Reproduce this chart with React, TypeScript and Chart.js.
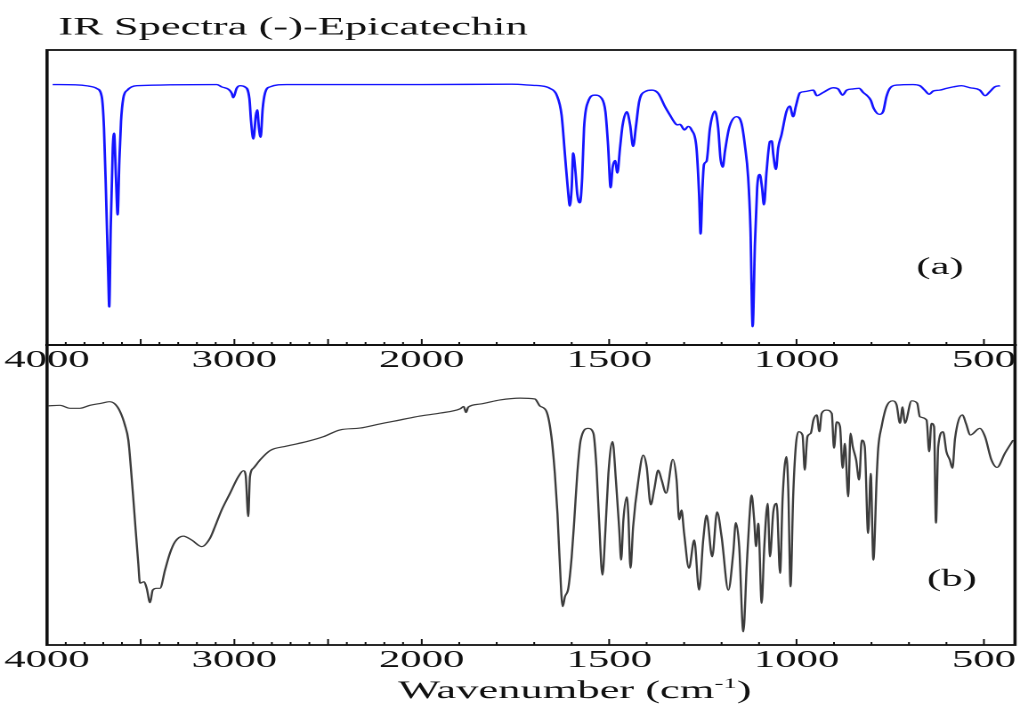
import React, { useEffect, useRef } from "react";
import { Chart, registerables } from "chart.js";

Chart.register(...registerables);

// ---------- text ----------
const chartTitle = "IR Spectra (-)-Epicatechin";
const panelLabelTop = "(a)";
const panelLabelBottom = "(b)";
const axisTitleMain = "Wavenumber (cm";
const axisTitleSup = "-1";
const axisTitleEnd = ")";

// ---------- axis ticks ----------
const tickLabels = [4000, 3000, 2000, 1500, 1000, 500];
const majorTickMarks = [4000, 3500, 3000, 2500, 2000, 1500, 1000, 500];
const minorTickStep = 100;
const wavenumberStart = 4000;
const wavenumberEnd = 417;

// ---------- spectrum (a) : computed IR, blue ----------
const topWavenumber = [
  3970, 3850, 3780, 3750, 3733, 3708, 3696, 3685, 3673, 3668,
  3660, 3649, 3642, 3632, 3623, 3614, 3605, 3593, 3571, 3521,
  3094, 3068, 3030, 3014, 3006, 2988, 2970, 2944, 2920, 2911,
  2899, 2885, 2878, 2869, 2860, 2849, 2837, 2810, 2721, 2000,
  1760, 1700, 1685, 1658, 1640, 1627, 1618, 1609, 1605, 1600,
  1596, 1590, 1585, 1578, 1572, 1567, 1556, 1538, 1520, 1510,
  1503, 1496, 1491, 1484, 1478, 1471, 1464, 1453, 1444, 1436,
  1428, 1420, 1404, 1386, 1369, 1351, 1338, 1324, 1318, 1311,
  1299, 1289, 1280, 1267, 1260, 1256, 1251, 1247, 1240, 1231,
  1218, 1209, 1203, 1197, 1191, 1180, 1160, 1147, 1138, 1129,
  1123, 1117, 1111, 1105, 1098, 1092, 1087, 1080, 1071, 1066,
  1062, 1055, 1049, 1040, 1027, 1018, 1009, 1002, 991, 978,
  955, 946, 929, 902, 889, 877, 866, 849, 833, 822,
  813, 802, 794, 779, 769, 760, 751, 733, 689, 671,
  658, 646, 635, 618, 600, 582, 560, 537, 511, 497,
  484, 471, 457,
];
const topTransmittance = [
  88.3, 88.2, 87.8, 87.4, 86.9, 84.2, 73.5, 51.0, 23.0, 12.9,
  39.8, 66.8, 71.8, 56.7, 44.1, 62.3, 75.8, 83.6, 86.4, 87.9,
  88.3, 87.5, 86.6, 85.3, 83.8, 87.0, 87.9, 87.5, 83.6, 75.8,
  69.8, 78.0, 79.7, 73.5, 70.4, 80.2, 85.3, 87.5, 88.3, 88.3,
  88.4, 88.0, 87.9, 87.0, 84.7, 78.0, 64.5, 51.1, 47.1, 53.3,
  65.1, 58.9, 51.1, 48.2, 56.7, 73.5, 82.5, 84.7, 83.6, 79.1,
  67.9, 53.3, 60.0, 62.5, 58.3, 66.8, 74.6, 79.1, 74.6, 67.3,
  74.6, 82.5, 85.9, 86.4, 85.3, 80.8, 78.0, 75.2, 74.6, 74.8,
  72.9, 74.1, 72.9, 66.8, 51.1, 37.6, 53.3, 61.2, 62.3, 73.5,
  79.3, 73.5, 63.4, 60.3, 65.7, 73.5, 77.4, 75.2, 67.9, 56.7,
  39.8, 6.2, 34.2, 53.3, 57.8, 53.3, 47.5, 58.9, 69.0, 69.2,
  64.5, 59.5, 66.8, 71.3, 79.1, 81.0, 77.4, 80.8, 85.5, 85.9,
  86.4, 84.5, 85.6, 87.2, 86.8, 84.7, 86.4, 86.8, 87.0, 85.6,
  84.7, 83.0, 80.2, 78.2, 79.1, 84.2, 87.0, 88.1, 88.3, 87.9,
  86.4, 85.0, 86.1, 86.4, 87.0, 87.5, 87.9, 87.2, 86.4, 84.5,
  85.9, 87.5, 87.9,
];

// ---------- spectrum (b) : experimental IR, dark grey ----------
const bottomWavenumber = [
  3993, 3931, 3877, 3824, 3771, 3708, 3668, 3637, 3610, 3584,
  3566, 3553, 3539, 3527, 3513, 3504, 3482, 3468, 3450, 3436,
  3415, 3397, 3370, 3344, 3317, 3273, 3228, 3174, 3130, 3104,
  3068, 3023, 2979, 2952, 2940, 2926, 2917, 2899, 2863, 2810,
  2721, 2614, 2526, 2436, 2330, 2223, 2116, 2010, 1951, 1898,
  1888, 1882, 1876, 1845, 1791, 1738, 1698, 1685, 1667, 1654,
  1645, 1638, 1633, 1624, 1618, 1609, 1600, 1593, 1585, 1576,
  1556, 1542, 1534, 1527, 1518, 1510, 1502, 1491, 1482, 1473,
  1468, 1462, 1453, 1449, 1443, 1436, 1422, 1409, 1400, 1389,
  1380, 1369, 1360, 1348, 1330, 1320, 1313, 1307, 1300, 1287,
  1273, 1260, 1249, 1240, 1225, 1212, 1200, 1182, 1169, 1162,
  1153, 1142, 1133, 1126, 1120, 1113, 1108, 1102, 1093, 1086,
  1077, 1071, 1062, 1053, 1044, 1037, 1027, 1022, 1016, 1009,
  1002, 995, 984, 978, 971, 962, 955, 946, 939, 933,
  920, 906, 900, 893, 884, 877, 871, 862, 856, 850,
  841, 833, 826, 818, 809, 802, 795, 786, 782, 773,
  760, 744, 733, 724, 717, 711, 693, 678, 671, 653,
  646, 640, 633, 628, 622, 609, 600, 591, 584, 577,
  557, 548, 536, 511, 497, 480, 465, 444, 422,
];
const bottomTransmittance = [
  79.7, 79.9, 78.9, 78.9, 79.9, 80.6, 81.1, 80.3, 77.8, 73.3,
  68.3, 59.4, 48.3, 38.3, 27.2, 20.6, 21.1, 18.9, 14.1, 18.3,
  18.9, 18.9, 25.0, 30.6, 34.4, 36.3, 35.0, 32.8, 35.6, 39.4,
  45.0, 50.6, 56.1, 58.1, 56.7, 42.8, 56.1, 58.9, 61.7, 64.8,
  66.3, 67.8, 69.4, 71.7, 72.3, 73.7, 75.0, 76.3, 77.3, 78.7,
  79.5, 77.5, 79.3, 80.3, 81.7, 82.3, 82.0, 79.7, 77.8, 69.4,
  57.2, 43.9, 30.6, 12.8, 16.1, 18.9, 29.4, 41.7, 57.2, 68.3,
  72.2, 70.6, 59.4, 41.7, 23.3, 38.3, 57.2, 67.8, 55.0, 38.3,
  28.3, 41.7, 49.4, 43.9, 25.6, 39.4, 55.0, 63.3, 59.4, 46.7,
  51.7, 58.3, 55.0, 50.6, 61.9, 55.0, 41.7, 45.0, 37.2, 25.6,
  35.0, 18.3, 35.0, 43.3, 29.4, 44.4, 36.1, 18.3, 30.6, 40.8,
  32.8, 4.4, 26.1, 41.7, 50.0, 41.7, 32.8, 40.6, 13.9, 32.8,
  47.2, 29.4, 44.4, 47.2, 23.9, 49.4, 62.8, 51.7, 19.4, 49.4,
  66.1, 71.1, 70.0, 58.3, 69.4, 70.6, 75.0, 76.7, 71.1, 77.2,
  78.3, 77.2, 65.6, 74.4, 72.8, 58.9, 67.2, 49.4, 70.6, 66.1,
  61.7, 55.0, 68.3, 66.1, 37.2, 57.2, 28.3, 56.1, 65.6, 72.8,
  79.4, 81.4, 80.0, 73.9, 79.4, 73.9, 81.4, 80.6, 76.1, 75.0,
  64.4, 73.9, 72.8, 40.6, 66.1, 71.1, 64.4, 61.7, 58.9, 68.9,
  76.7, 73.9, 70.0, 72.2, 69.4, 61.7, 59.2, 63.9, 68.3,
];

// ---------- geometry (the picture is a horizontally stretched plot) ----------
const PAGE_W = 1020;
const PAGE_H = 706;
const LOGICAL_W = 573;
const SX = PAGE_W / LOGICAL_W;
const PLOT_LEFT = 47 / SX;
const PLOT_RIGHT = 1015 / SX;
const AXIS_H = 30;
const SERIF = '"Liberation Serif", "Times New Roman", serif';
const INK = "#111111";

// x axis: linear above 2000 cm-1, expanded x2 below 2000 cm-1
const toAxis = (w: number) => (w >= 2000 ? (4000 - w) / 1000 : 2 + (2000 - w) / 500);

function drawText(ctx: CanvasRenderingContext2D, text: string, x: number, y: number, size: number, align: CanvasTextAlign) {
  ctx.font = `${size}px ${SERIF}`;
  ctx.fillStyle = INK;
  ctx.textAlign = align;
  ctx.textBaseline = "alphabetic";
  ctx.fillText(text, x, y);
}

function framePlugin(id: string, drawExtra: (chart: any) => void) {
  return {
    id,
    afterDraw(chart: any) {
      const { ctx, chartArea: a, scales } = chart;
      ctx.save();
      ctx.strokeStyle = INK;
      ctx.lineWidth = 1.8;
      ctx.strokeRect(a.left, a.top, a.right - a.left, a.bottom - a.top);
      ctx.lineWidth = 1;
      ctx.beginPath();
      for (let w = wavenumberStart; w >= 500; w -= minorTickStep) {
        const x = scales.x.getPixelForValue(toAxis(w));
        const len = majorTickMarks.includes(w) ? 6 : 3;
        ctx.moveTo(x, a.bottom);
        ctx.lineTo(x, a.bottom - len);
      }
      ctx.stroke();
      drawExtra(chart);
      ctx.restore();
    },
  };
}

function makeConfig(
  wn: number[],
  tr: number[],
  color: string,
  width: number,
  top: number,
  bottom: number,
  plugin: any
): any {
  return {
    type: "line",
    data: {
      datasets: [
        {
          data: wn.map((w, i) => ({ x: toAxis(w), y: tr[i] })),
          borderColor: color,
          borderWidth: width,
          pointRadius: 0,
          fill: false,
          cubicInterpolationMode: "monotone",
          borderJoinStyle: "round",
        },
      ],
    },
    options: {
      responsive: false,
      animation: false,
      devicePixelRatio: 2,
      events: [],
      layout: {
        padding: { left: PLOT_LEFT, right: LOGICAL_W - PLOT_RIGHT, top, bottom: PAGE_H - bottom - AXIS_H },
      },
      plugins: { legend: { display: false }, title: { display: false }, tooltip: { enabled: false } },
      scales: {
        x: {
          type: "linear",
          min: toAxis(wavenumberStart),
          max: toAxis(wavenumberEnd),
          grid: { display: false, drawTicks: false },
          border: { display: false },
          afterBuildTicks: (scale: any) => {
            scale.ticks = tickLabels.map((w) => ({ value: toAxis(w) }));
          },
          afterFit: (scale: any) => {
            scale.height = AXIS_H;
          },
          ticks: {
            autoSkip: false,
            maxRotation: 0,
            minRotation: 0,
            padding: 1.5,
            color: INK,
            font: { family: SERIF, size: 24 },
            callback: (_v: number, i: number) => String(tickLabels[i]),
          },
        },
        y: { display: false, min: 0, max: 100 },
      },
    },
    plugins: [plugin],
  };
}

export default function App() {
  const topRef = useRef<HTMLCanvasElement>(null);
  const bottomRef = useRef<HTMLCanvasElement>(null);

  useEffect(() => {
    const topPlugin = framePlugin("frameTop", (chart) => {
      const { ctx } = chart;
      drawText(ctx, chartTitle, 58.3 / SX, 34.3, 25, "left");
      drawText(ctx, panelLabelTop, 940 / SX, 274, 24, "center");
    });
    const bottomPlugin = framePlugin("frameBottom", (chart) => {
      const { ctx } = chart;
      drawText(ctx, panelLabelBottom, 952 / SX, 586, 24, "center");
      let x = 398 / SX;
      const base = 698;
      drawText(ctx, axisTitleMain, x, base, 25, "left");
      x += ctx.measureText(axisTitleMain).width;
      drawText(ctx, axisTitleSup, x, base - 10, 15, "left");
      x += ctx.measureText(axisTitleSup).width;
      drawText(ctx, axisTitleEnd, x, base, 25, "left");
    });

    const c1 = new Chart(
      topRef.current as HTMLCanvasElement,
      makeConfig(topWavenumber, topTransmittance, "#1414ff", 1.4, 50, 345, topPlugin)
    );
    const c2 = new Chart(
      bottomRef.current as HTMLCanvasElement,
      makeConfig(bottomWavenumber, bottomTransmittance, "#3c3c3c", 1.2, 345, 645, bottomPlugin)
    );
    return () => {
      c1.destroy();
      c2.destroy();
    };
  }, []);

  const canvasStyle: React.CSSProperties = {
    position: "absolute",
    left: 0,
    top: 0,
    width: `${PAGE_W}px`,
    height: `${PAGE_H}px`,
  };

  return (
    <div style={{ position: "fixed", left: 0, top: 0, width: PAGE_W, height: PAGE_H, background: "#ffffff" }}>
      <canvas ref={bottomRef} width={LOGICAL_W} height={PAGE_H} style={canvasStyle} />
      <canvas ref={topRef} width={LOGICAL_W} height={PAGE_H} style={canvasStyle} />
    </div>
  );
}
